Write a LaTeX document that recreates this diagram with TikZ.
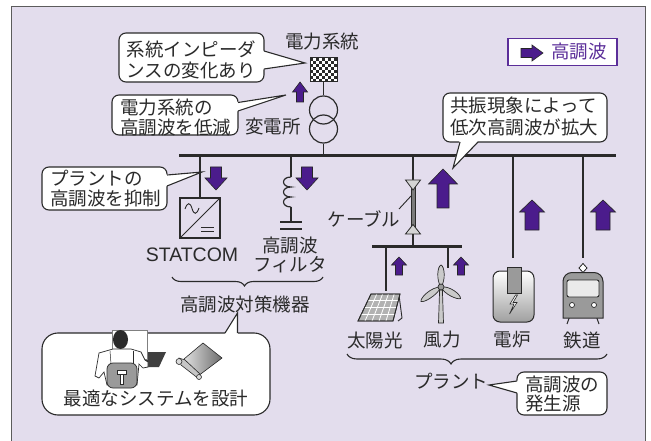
\documentclass[tikz,border=0pt]{standalone}
\usepackage{fontspec}
\setmainfont{Noto Sans CJK JP}
\newfontfamily\latinsans{Liberation Sans}
\usetikzlibrary{calc,decorations.pathreplacing}
\definecolor{bgfill}{HTML}{E3DDED}
\definecolor{framec}{HTML}{5C5C5C}
\definecolor{inkc}{HTML}{2A2A2A}
\definecolor{harm}{HTML}{4B1C8C}
\definecolor{legendc}{HTML}{5B2E99}
\definecolor{devgray}{HTML}{9A9A9A}
\definecolor{devlight}{HTML}{EAEAEA}
\definecolor{cablegray}{HTML}{D4D4D4}

% vertical block arrow: centre x, tip y, neck y, tail y, shaft half width, head half width
\newcommand\harmv[6]{%
  \filldraw[harmarrow] ({#1-#5},#4) -- ({#1-#5},#3) -- ({#1-#6},#3) -- (#1,#2)
    -- ({#1+#6},#3) -- ({#1+#5},#3) -- ({#1+#5},#4) -- cycle;}

\begin{document}
\begin{tikzpicture}[x=1pt,y=-1pt,
  lbl/.style={text=inkc, inner sep=0pt, font=\fontsize{18.5}{21}\selectfont},
  wire/.style={draw=inkc, line width=1.2pt},
  thinwire/.style={draw=inkc, line width=0.9pt},
  busbar/.style={draw=inkc, line width=3pt},
  calloutbox/.style={draw=inkc, fill=white, line width=1.1pt, rounded corners=7pt, inner sep=0pt},
  calloutline/.style={draw=inkc, line width=1.1pt, line join=miter},
  harmarrow/.style={fill=harm, draw=black!85, line width=0.6pt},
  xfmr/.style={draw=inkc, line width=1.2pt, circle, minimum size=28pt, inner sep=0pt},
  plantbrace/.style={draw=inkc, line width=1.1pt, decorate}]

\useasboundingbox (0,0) rectangle (651,441);
\fill[white] (0,0) rectangle (651,441);
\filldraw[fill=bgfill, draw=framec, line width=1pt] (11,7) rectangle (645,446);

% ---- legend ----
\node[draw=legendc, line width=1.2pt, fill=white, minimum width=109pt, minimum height=27pt, inner sep=0pt] (legend) at (562.5,52) {};
\filldraw[harmarrow] (521,48.5) -- (532,48.5) -- (532,45) -- (543,53) -- (532,61) -- (532,57.5) -- (521,57.5) -- cycle;
\node[lbl, text=legendc] (legendtxt) at (579,52) {高調波};

% ---- grid and substation ----
\node[lbl] (gridlbl) at (322,42) {電力系統};
\fill[white] (310,58) rectangle (337,82);
\foreach \i in {0,...,8}{
  \foreach \j in {0,...,7}{
    \pgfmathtruncatemacro\cellpar{mod(\i+\j,2)}
    \ifnum\cellpar=0 \fill[inkc] ({310+3*\i},{58+3*\j}) rectangle ++(3,3); \fi
  }
}
\node[draw=inkc, line width=1pt, minimum width=27pt, minimum height=24pt, inner sep=0pt] (grid) at (323.5,70) {};
\node[xfmr] (tra) at (323.5,110) {};
\node[xfmr] (trb) at (323.5,129) {};
\draw[wire] (grid.south) -- (tra.north);
\coordinate (busW) at (179,156);
\coordinate (busE) at (616,156);
\draw[busbar] (busW) -- (busE);
\draw[wire] (trb.south) -- (trb.south |- busW);
\node[lbl] (sslbl) at (273,126) {変電所};
\harmv{300}{82}{92}{102}{3.5}{7.5}

% callout: impedance change
\node[calloutbox, minimum width=145pt, minimum height=49pt] (c1) at (191.5,57.5) {};
\fill[white] (262.5,50.5) -- (305,63) -- (262.5,69.5) -- cycle;
\draw[calloutline] (264,51) -- (305,63) -- (264,69);
\node[lbl, align=left] (c1txt) at (191.5,60) {系統インピーダ\\ンスの変化あり};

% callout: grid harmonics reduced
\node[calloutbox, minimum width=126pt, minimum height=40pt] (c2) at (175,115) {};
\fill[white] (236.5,102) -- (286,95) -- (236.5,111.5) -- cycle;
\draw[calloutline] (238,102.5) -- (286,95) -- (238,111);
\node[lbl, align=left, anchor=west, font=\fontsize{18.5}{19.5}\selectfont] (c2txt) at (120,117.5) {電力系統の\\高調波を低減};

% ---- STATCOM ----
\node[draw=inkc, line width=1.2pt, minimum size=40pt, inner sep=0pt] (statcom) at (200,218) {};
\draw[wire] (statcom.north |- busW) -- (statcom.north);
\draw[thinwire] (statcom.south west) -- (statcom.north east);
\draw[thinwire] (185,209) .. controls (187.5,202) and (190,202) .. (192,208.5) .. controls (194,215) and (196.5,215) .. (199,208);
\draw[thinwire] (201,227) -- (214,227);
\draw[thinwire] (201,231.5) -- (214,231.5);
\node[lbl, font=\latinsans\fontsize{19.5}{21}\selectfont] (statcomlbl) at (192,255) {STATCOM};
\harmv{216}{190}{178}{167}{5.5}{11}

% callout: suppress plant harmonics
\node[calloutbox, minimum width=125pt, minimum height=43pt] (c3) at (104.5,188.5) {};
\fill[white] (165.5,174.5) -- (202,172) -- (165.5,186.5) -- cycle;
\draw[calloutline] (167,175) -- (202,172) -- (167,186);
\node[lbl, align=left, anchor=west, font=\fontsize{18.5}{20}\selectfont] (c3txt) at (50,188.5) {プラントの\\高調波を抑制};

% ---- harmonic filter ----
\coordinate (coilT) at (291,177);
\coordinate (coilB) at (291,207);
\coordinate (capT) at (291,222);
\draw[wire] (coilT |- busW) -- (coilT);
\draw[wire] (coilT) .. controls (281,177) and (281,187) .. (291,187)
                   .. controls (281,187) and (281,197) .. (291,197)
                   .. controls (281,197) and (281,207) .. (coilB);
\draw[wire] (coilB) -- (capT);
\draw[wire] (280,222) -- (302,222);
\draw[wire] (280,229) -- (302,229);
\node[lbl, align=center, font=\fontsize{18.5}{19.5}\selectfont] (fillbl) at (290,255) {高調波\\フィルタ};
\harmv{307}{190}{178}{167}{5.5}{11}

% countermeasure brace
\draw[plantbrace, decoration={brace, mirror, amplitude=9pt, aspect=0.48}] (172,277) -- (323,277);
\node[lbl] (measlbl) at (245,304) {高調波対策機器};

% ---- cable and plant bus ----
\coordinate (cabT) at (413,180);
\coordinate (cabB) at (413,234);
\draw[wire] (cabT |- busW) -- (cabT);
\filldraw[fill=devgray!80!black, draw=inkc, line width=0.6pt] (410.8,184) rectangle (415.2,230);
\filldraw[fill=cablegray, draw=inkc, line width=0.8pt] (405.5,180) -- (420.5,180) -- (413,190) -- cycle;
\filldraw[fill=cablegray, draw=inkc, line width=0.8pt] (405.5,234) -- (420.5,234) -- (413,224.5) -- cycle;
\coordinate (pbusW) at (372,246);
\coordinate (pbusE) at (462,246);
\draw[wire] (cabB) -- (cabB |- pbusW);
\draw[busbar] (pbusW) -- (pbusE);
\node[lbl] (cablbl) at (364,219) {ケーブル};
\draw[thinwire] (399,209) -- (411,196);
\harmv{443}{169}{184}{208}{6}{14.5}

% callout: resonance
\node[calloutbox, minimum width=164pt, minimum height=49pt] (c4) at (525,117.5) {};
\fill[white] (459.5,140.5) -- (453,168) -- (478.5,140.5) -- cycle;
\draw[calloutline] (460,142) -- (453,168) -- (478,142);
\node[lbl, align=left, font=\fontsize{18.5}{22}\selectfont] (c4txt) at (524,116) {共振現象によって\\低次高調波が拡大};

% ---- solar ----
\coordinate (pvT) at (386,291);
\draw[wire] (pvT |- pbusW) -- (pvT);
\draw[thinwire] (399,295) -- (402,318) -- (398,321);
\coordinate (pvA) at (371,294);
\coordinate (pvB) at (400,294);
\coordinate (pvC) at (393,321);
\coordinate (pvD) at (358,321);
\filldraw[fill=gray!60, draw=inkc, line width=0.8pt] (pvA) -- (pvB) -- (pvC) -- (pvD) -- cycle;
\foreach \t in {0.2,0.4,0.6,0.8}{
  \draw[white, line width=0.8pt] ($(pvA)!\t!(pvB)$) -- ($(pvD)!\t!(pvC)$);
}
\foreach \t in {0.25,0.5,0.75}{
  \draw[white, line width=0.8pt] ($(pvA)!\t!(pvD)$) -- ($(pvB)!\t!(pvC)$);
}
\draw[inkc, line width=0.8pt] (pvA) -- (pvB) -- (pvC) -- (pvD) -- cycle;
\harmv{399}{257}{265}{275}{3.5}{7.5}
\node[lbl] (pvlbl) at (375,340) {太陽光};

% ---- wind ----
\coordinate (wtT) at (448,268);
\draw[wire] (wtT |- pbusW) -- (wtT);
\filldraw[fill=devlight!70!gray, draw=inkc, line width=0.7pt] (439.6,290) -- (442.4,290) -- (443.5,323) -- (438.5,323) -- cycle;
\filldraw[fill=devlight!70!gray, draw=inkc, line width=0.7pt]
  (441,287) .. controls (436,280) and (437.5,266) .. (441,265) .. controls (444.5,266) and (446,280) .. (441,287);
\filldraw[fill=devlight!70!gray, draw=inkc, line width=0.7pt]
  (441,287) .. controls (432,286.5) and (420,297.5) .. (421,301.5) .. controls (424,303) and (437.5,295) .. (441,287);
\filldraw[fill=devlight!70!gray, draw=inkc, line width=0.7pt]
  (441,287) .. controls (449.5,285.5) and (461,294.5) .. (460.5,298.5) .. controls (457.5,300) and (444.5,294.5) .. (441,287);
\filldraw[fill=devgray, draw=inkc, line width=0.7pt] (441,287) circle[radius=3];
\harmv{461}{257}{265}{275}{3.5}{7.5}
\node[lbl] (wtlbl) at (442,340) {風力};

% ---- electric furnace ----
\coordinate (efT) at (513,258);
\draw[wire] (efT |- busW) -- (efT);
\shade[top color=white, middle color=white, bottom color=gray!75] [rounded corners=7pt] (493,271) rectangle (534,322);
\draw[inkc, line width=1pt, rounded corners=7pt] (493,271) rectangle (534,322);
\filldraw[fill=devgray, draw=inkc, line width=0.9pt] (507,267) rectangle (521,293);
\filldraw[fill=white, draw=inkc, line width=0.6pt] (515.5,295) -- (510,304) -- (514,304) -- (509.5,314) -- (517,302.5) -- (513,302.5) -- (517.5,295) -- cycle;
\harmv{532}{200}{212}{230}{7}{12.5}
\node[lbl] (eflbl) at (512,340) {電炉};

% ---- railway ----
\coordinate (rwT) at (583,258);
\draw[wire] (rwT |- busW) -- (rwT);
\filldraw[fill=white, draw=inkc, line width=0.8pt] (583,263.5) -- (587,268) -- (583,272.5) -- (579,268) -- cycle;
\draw[inkc, line width=1pt] (569.5,317) -- (567,324);
\draw[inkc, line width=1pt] (596.5,317) -- (599,324);
\filldraw[fill=devgray, draw=inkc, line width=1pt] (563,318) -- (563,283) [rounded corners=9pt] -- (563,272.5) -- (603,272.5) [sharp corners] -- (603,283) -- (603,318) -- cycle;
\filldraw[fill=devlight, draw=inkc, line width=0.9pt, rounded corners=2pt] (567,280) rectangle (599,297);
\filldraw[fill=white, draw=inkc, line width=0.7pt] (572,305) circle[radius=2.5];
\filldraw[fill=white, draw=inkc, line width=0.7pt] (594,305) circle[radius=2.5];
\harmv{603}{200}{212}{230}{7}{12.5}
\node[lbl] (rwlbl) at (582,340) {鉄道};

% plant brace
\draw[plantbrace, decoration={brace, mirror, amplitude=10pt, aspect=0.4}] (347,354) -- (607,354);
\node[lbl] (plantlbl) at (451,381) {プラント};

% callout: harmonic sources
\node[calloutbox, minimum width=90pt, minimum height=43pt] (c5) at (562,393.5) {};
\fill[white] (518.5,380.5) -- (489,385) -- (518.5,393.5) -- cycle;
\draw[calloutline] (517,381) -- (489,385) -- (517,393);
\node[lbl, align=left, anchor=west, font=\fontsize{18.5}{19}\selectfont] (c5txt) at (525,394) {高調波の\\発生源};

% ---- design callout ----
\node[calloutbox, rounded corners=16pt, minimum width=228pt, minimum height=82pt] (c6) at (156,374) {};
\fill[white] (224.5,334.5) -- (237.5,313) -- (238,334.5) -- cycle;
\draw[calloutline] (225,333) -- (237.5,313) -- (237.5,333);
\node[lbl] (c6txt) at (156,398) {最適なシステムを設計};

% designer at a workstation
\fill[inkc!75!gray] (147,352) -- (166,352) -- (159,367) -- (141,367) -- cycle;
\filldraw[fill=white, draw=gray, line width=0.8pt] (112,330) rectangle (147,359);
\filldraw[fill=white, draw=inkc, line width=0.7pt] (99,353) -- (113,349) -- (131,349) -- (141,352) -- (145,360) -- (148,362) -- (148,367) -- (143,368) -- (139,364) -- (137,385) -- (107,385) -- (104,372) -- (99,378) -- (95,376) -- cycle;
\draw[inkc, line width=0.5pt] (110,351) -- (111,364);
\draw[inkc, line width=0.5pt] (133,351) -- (133,364);
\fill[inkc] (120.5,339.5) ellipse[x radius=7.5, y radius=9.5];
\filldraw[fill=devgray, draw=inkc, line width=0.7pt, rounded corners=6pt] (107,363) rectangle (137,388);
\filldraw[fill=white, draw=inkc, line width=0.6pt] (117,370) rectangle (126,374);
\filldraw[fill=white, draw=inkc, line width=0.6pt] (120,374) rectangle (123,384);

% drawing sheet
\shade[left color=gray!25, right color=gray!85!black] (203,343) -- (222,358) -- (198,376) -- (184,359) -- cycle;
\draw[inkc, line width=0.6pt] (203,343) -- (222,358) -- (198,376) -- (184,359) -- cycle;
\filldraw[fill=gray!45, draw=inkc, line width=0.6pt] (179,358) -- (185,360) -- (200,374) -- (199,379) -- (181,365) -- cycle;
\filldraw[fill=gray!30, draw=inkc, line width=0.6pt] (179,361.5) circle[radius=3];
\filldraw[fill=gray!30, draw=inkc, line width=0.6pt] (199,377) circle[radius=2.5];
\end{tikzpicture}
\end{document}
